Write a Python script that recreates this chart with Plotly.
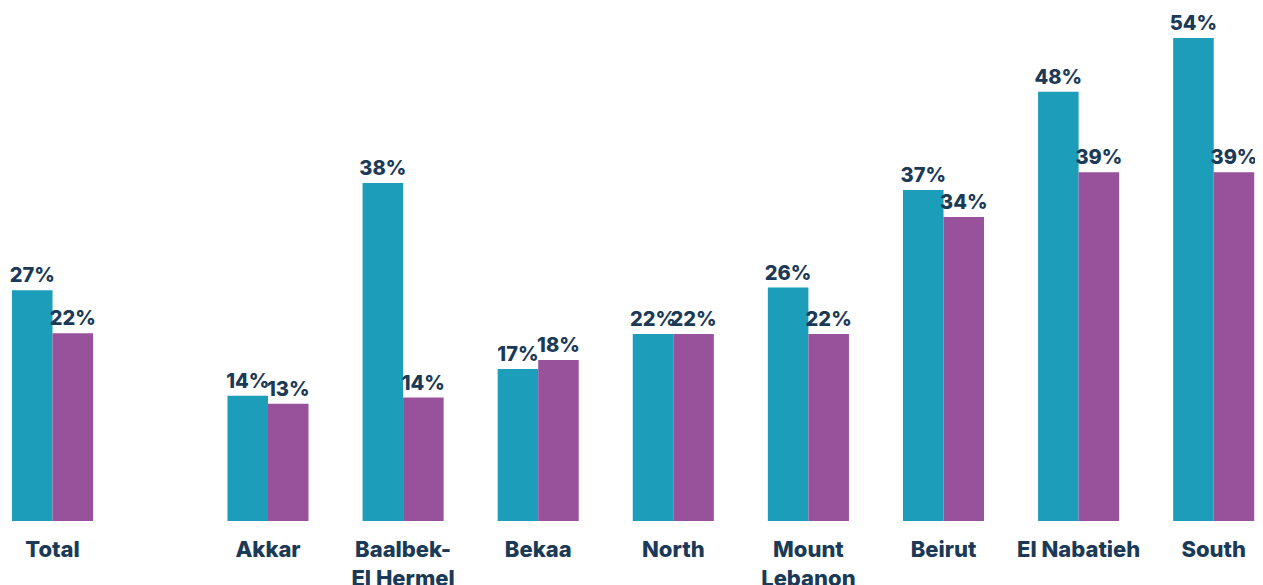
import plotly.graph_objects as go
from plotly.subplots import make_subplots

# values (labels are what the chart prints)
total_cat = ["Total"]
total_a = [25.8]
total_b = [21.0]
total_a_lbl = ["27%"]
total_b_lbl = ["22%"]

regions = ["Akkar", "Baalbek-<br>El Hermel", "Bekaa", "North", "Mount<br>Lebanon",
           "Beirut", "El Nabatieh", "South"]
reg_a = [14.0, 37.8, 17.0, 20.9, 26.1, 37.0, 48.0, 54.0]
reg_b = [13.1, 13.8, 18.0, 20.9, 20.9, 34.0, 39.0, 39.0]
reg_a_lbl = ["14%", "38%", "17%", "22%", "26%", "37%", "48%", "54%"]
reg_b_lbl = ["13%", "14%", "18%", "22%", "22%", "34%", "39%", "39%"]

TEAL = "#1C9DB9"
PURPLE = "#98529C"
NAVY = "#1B3A57"
FONT = "Inter"

# page body has an 8px margin, so the figure is a bit smaller than the window
W, H = 1255, 577
step = 135.1  # px per category

fig = make_subplots(rows=1, cols=2)

def add_pair(cats, a, b, la, lb, col):
    for vals, lbl, color in ((a, la, TEAL), (b, lb, PURPLE)):
        fig.add_trace(go.Bar(
            x=cats, y=vals, text=lbl, textposition="outside", constraintext="none",
            marker=dict(color=color, line=dict(width=0)),
            textfont=dict(family=FONT, size=20, color=NAVY, weight=800),
            cliponaxis=False, showlegend=False,
        ), row=1, col=col)

add_pair(total_cat, total_a, total_b, total_a_lbl, total_b_lbl, 1)
add_pair(regions, reg_a, reg_b, reg_a_lbl, reg_b_lbl, 2)

tick_font = dict(family=FONT, size=22, color=NAVY, weight=800)
ax_common = dict(type="category", showgrid=False, zeroline=False, showline=False,
                 ticks="", tickfont=tick_font, ticklabelstandoff=13, automargin=False)

c1 = 44.5
c2 = 260.0
bottom = 64
ymax = (H - bottom) / 8.944
fig.update_layout(
    width=W, height=H,
    margin=dict(l=0, r=0, t=0, b=bottom),
    paper_bgcolor="white", plot_bgcolor="white",
    barmode="group", bargap=0.4, bargroupgap=0,
    xaxis=dict(domain=[0, 0.1], range=[-c1 / step, (0.1 * W - c1) / step], **ax_common),
    xaxis2=dict(domain=[(c2 - 0.5 * step) / W, 1], range=[-0.5, (W - c2) / step], **ax_common),
    yaxis=dict(range=[0, ymax], visible=False, automargin=False),
    yaxis2=dict(range=[0, ymax], visible=False, automargin=False),
)

fig.write_html("out.html")
